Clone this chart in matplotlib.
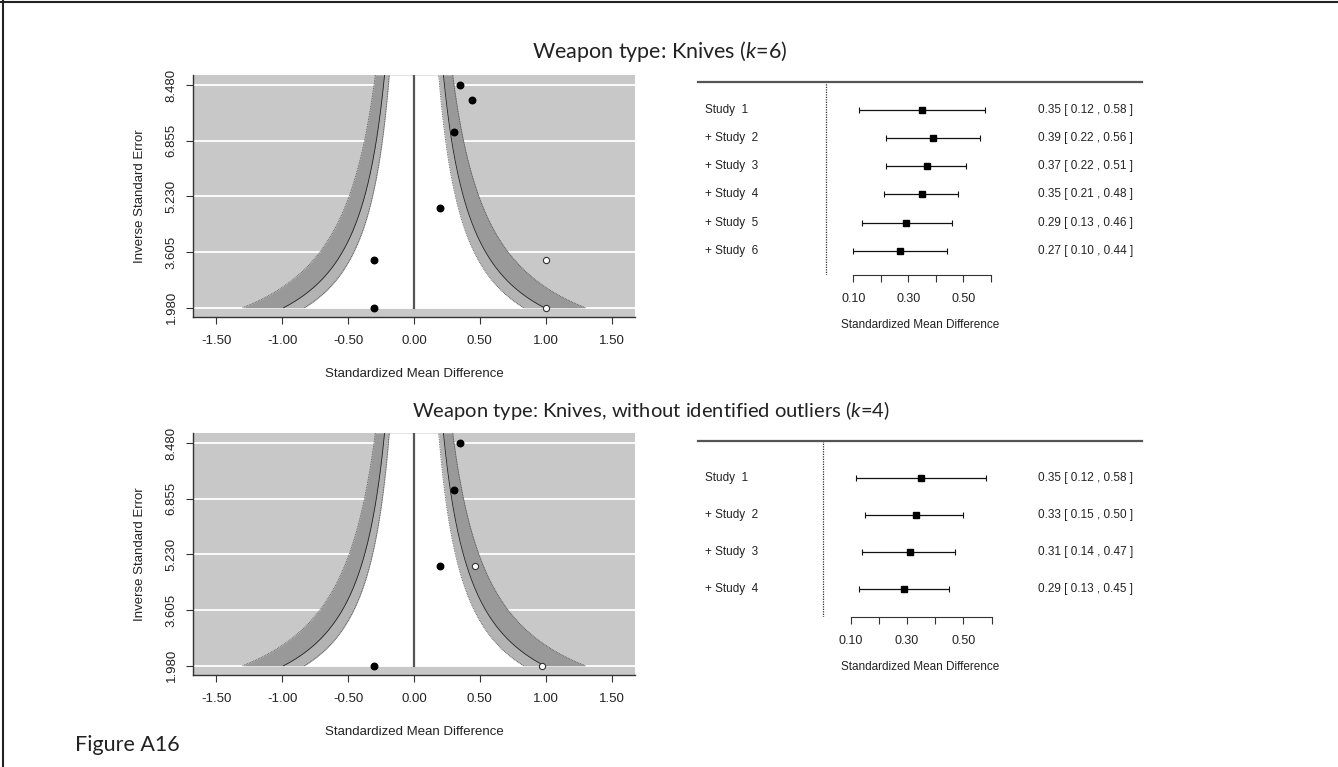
import numpy as np
import matplotlib
matplotlib.use("Agg")
import matplotlib.pyplot as plt
from matplotlib.lines import Line2D

# Funnel data (SMD vs inverse standard error)
top_x = [0.35, 0.44, 0.30, 0.20, -0.30, -0.30]
top_y = [8.48, 8.04, 7.12, 4.88, 3.37, 1.98]
top_fill_x = [1.00, 1.00]
top_fill_y = [3.37, 1.98]

bot_x = [0.35, 0.30, 0.20, -0.30]
bot_y = [8.48, 7.12, 4.88, 1.98]
bot_fill_x = [0.46, 0.97]
bot_fill_y = [4.88, 1.98]

funnel_yticks = [1.980, 3.605, 5.230, 6.855, 8.480]
funnel_xticks = [-1.5, -1.0, -0.5, 0.0, 0.5, 1.0, 1.5]

# Cumulative forest data
top_labels = ["Study  1", "+ Study  2", "+ Study  3", "+ Study  4", "+ Study  5", "+ Study  6"]
top_est = [0.35, 0.39, 0.37, 0.35, 0.29, 0.27]
top_lo = [0.12, 0.22, 0.22, 0.21, 0.13, 0.10]
top_hi = [0.58, 0.56, 0.51, 0.48, 0.46, 0.44]

bot_labels = ["Study  1", "+ Study  2", "+ Study  3", "+ Study  4"]
bot_est = [0.35, 0.33, 0.31, 0.29]
bot_lo = [0.12, 0.15, 0.14, 0.13]
bot_hi = [0.58, 0.50, 0.47, 0.45]

forest_ticks = [0.1, 0.2, 0.3, 0.4, 0.5, 0.6]
forest_ticklabels = ["0.10", "", "0.30", "", "0.50", ""]

plt.rcParams['font.family'] = ['Liberation Sans', 'DejaVu Sans']
plt.rcParams['mathtext.fontset'] = 'custom'
plt.rcParams['mathtext.rm'] = 'Lato'
plt.rcParams['mathtext.it'] = 'Lato:italic'

W, H = 1338, 767
fig = plt.figure(figsize=(W / 100, H / 100), dpi=100)
fig.patch.set_facecolor('white')


def px_axes(l, t, r, b):
    return fig.add_axes([l / W, 1 - b / H, (r - l) / W, (b - t) / H])


BG = '#c8c8c8'
LIGHT = '#b3b3b3'
DARK = '#999999'
TXT = 9.5
FTXT = 8.5


def funnel(ax, x, y, fx, fy):
    ylo, yhi = 1.71, 8.77
    ax.set_xlim(-1.678, 1.678)
    ax.set_ylim(ylo, yhi)
    ax.set_facecolor(BG)
    for t in funnel_yticks:
        ax.axhline(t, color='white', lw=1.3, zorder=1)
    yy = np.linspace(min(funnel_yticks), yhi, 300)
    z90, z95, z99 = 1.645, 1.96, 2.576
    for s in (-1, 1):
        # outer band (95-99%) dark, inner band (90-95%) light
        ax.fill_betweenx(yy, s * z95 / yy, s * z99 / yy, color=DARK, lw=0, zorder=2)
        ax.fill_betweenx(yy, s * z90 / yy, s * z95 / yy, color=LIGHT, lw=0, zorder=2)
        ax.plot(s * z95 / yy, yy, color='#222222', lw=0.6, zorder=3)
        ax.plot(s * z90 / yy, yy, color='#444444', lw=0.6, ls=(0, (1, 1)), zorder=3)
        ax.plot(s * z99 / yy, yy, color='#444444', lw=0.6, ls=(0, (1, 1)), zorder=3)
    ax.fill_betweenx(yy, -z90 / yy, z90 / yy, color='white', lw=0, zorder=2)
    ax.plot([0, 0], [min(funnel_yticks), yhi], color='#555555', lw=1.6, zorder=4)
    ax.scatter(x, y, s=22, color='black', zorder=5)
    ax.scatter(fx, fy, s=20, facecolor='white', edgecolor='#333333', lw=0.8, zorder=5)

    for sp in ('top', 'right'):
        ax.spines[sp].set_visible(False)
    for sp in ('left', 'bottom'):
        ax.spines[sp].set_color('#333333')
        ax.spines[sp].set_linewidth(1.0)
    ax.set_xticks(funnel_xticks)
    ax.set_xticklabels([f"{v:.2f}" for v in funnel_xticks], fontsize=TXT)
    ax.set_yticks(funnel_yticks)
    ax.set_yticklabels([f"{v:.3f}" for v in funnel_yticks], fontsize=TXT,
                       rotation=90, va='center')
    ax.tick_params(axis='both', length=5, width=0.8, color='#333333',
                   labelcolor='#222222')
    ax.tick_params(axis='x', pad=8)
    ax.tick_params(axis='y', pad=6)
    ax.set_xlabel("Standardized Mean Difference", fontsize=TXT,
                  color='#222222', labelpad=15)
    ax.set_ylabel("Inverse Standard Error", fontsize=TXT, color='#222222',
                  labelpad=14)


def forest(ax, labels, est, lo, hi, xlim, ylim):
    k = len(est)
    rows = np.arange(k, 0, -1)
    ax.set_xlim(*xlim)
    ax.set_ylim(*ylim)
    ax.axvline(0, color='#333333', lw=0.9, ls=(0, (1, 1)))
    err = [np.array(est) - np.array(lo), np.array(hi) - np.array(est)]
    ax.errorbar(est, rows, xerr=err, fmt='none', ecolor='#111111',
                elinewidth=0.9, capsize=2, capthick=0.8)
    ax.plot(est, rows, 's', color='black', ms=4.6)
    for r, lab, e, l, h in zip(rows, labels, est, lo, hi):
        ax.text(0.016, r, lab, transform=ax.get_yaxis_transform(),
                ha='left', va='center', fontsize=FTXT, color='#222222')
        ax.text(0.980, r, f"{e:.2f} [ {l:.2f} , {h:.2f} ]",
                transform=ax.get_yaxis_transform(),
                ha='right', va='center', fontsize=FTXT, color='#222222')
    for sp in ('left', 'right'):
        ax.spines[sp].set_visible(False)
    ax.spines['top'].set_color('#555555')
    ax.spines['top'].set_linewidth(1.6)
    ax.spines['bottom'].set_bounds(0.1, 0.6)
    ax.spines['bottom'].set_color('#333333')
    ax.set_yticks([])
    ax.set_xticks(forest_ticks)
    ax.set_xticklabels(forest_ticklabels, fontsize=FTXT + 0.5)
    ax.tick_params(axis='x', length=5, width=0.8, pad=8, color='#333333',
                   labelcolor='#222222')
    ax.set_xlabel("Standardized Mean Difference", fontsize=FTXT,
                  color='#222222', labelpad=10)
    ax.patch.set_alpha(0)


ax1 = px_axes(193, 75, 635, 317)
funnel(ax1, top_x, top_y, top_fill_x, top_fill_y)
ax2 = px_axes(698, 82, 1142, 275)
forest(ax2, top_labels, top_est, top_lo, top_hi, (-0.4656, 1.151), (0.135, 7))

ax3 = px_axes(193, 433, 635, 675)
funnel(ax3, bot_x, bot_y, bot_fill_x, bot_fill_y)
ax4 = px_axes(698, 441, 1142, 617)
forest(ax4, bot_labels, bot_est, bot_lo, bot_hi, (-0.4415, 1.133), (0.23, 5))

fig.text(660 / W, 1 - 52 / H, "Weapon type: Knives ($k$=6)", family='Lato',
         fontsize=15.5, ha='center', va='center', color='#222222')
fig.text(651 / W, 1 - 411 / H,
         "Weapon type: Knives, without identified outliers ($k$=4)", family='Lato',
         fontsize=14.5, ha='center', va='center', color='#222222')
fig.text(75 / W, 1 - 745 / H, "Figure A16", family='Lato', fontsize=15.5,
         ha='left', va='center', color='#222222')

fig.add_artist(Line2D([0, 1], [1 - 2 / H, 1 - 2 / H], color='#222222', lw=1.5))
fig.add_artist(Line2D([3 / W, 3 / W], [0, 1], color='#222222', lw=1.5))

fig.savefig("out.png", dpi=100)
